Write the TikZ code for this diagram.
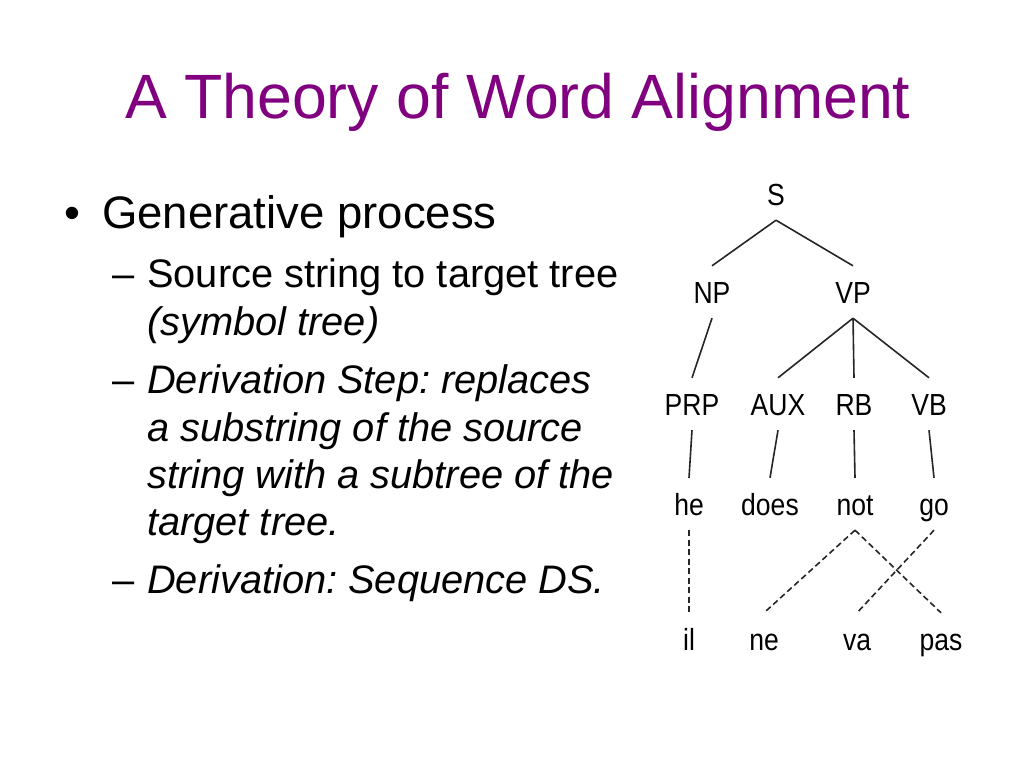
\documentclass[tikz,border=0pt]{standalone}
\usepackage{fontspec}
\setmainfont{Liberation Sans}
\newfontfamily\treefont[FakeStretch=0.87]{Liberation Sans}
\usepackage{xcolor}
\usepackage{tikz}
\frenchspacing
\definecolor{titlepurple}{RGB}{128,0,128}
\tikzset{
  ttl/.style={anchor=base west, inner sep=0pt, text=titlepurple, font=\fontsize{62.6}{75}\selectfont},
  txt/.style={anchor=base west, inner sep=0pt, font=\fontsize{#1}{48}\selectfont},
  txt/.default=39.8,
  tnode/.style={anchor=base, inner xsep=2pt, inner ysep=15pt, text height=22pt, text depth=0pt,
                font=\treefont\fontsize{30.5}{36}\selectfont},
  tlink/.style={line width=1.6pt, black!85},
  alink/.style={tlink, dash pattern=on 6pt off 3.5pt},
}

\begin{document}
\begin{tikzpicture}[x=1pt, y=-1pt]

\fill[white] (0,0) rectangle (1024,768);
\useasboundingbox (0,0) rectangle (1024,768);

% Title
\node[ttl] (title) at (125,118) {A Theory of Word Alignment};

% Bullets
\node[txt=45.5, anchor=base] (dot) at (72,228) {\textbullet};
\node[txt=45.5] (gen) at (102,228) {Generative process};
\node[txt] (dash1) at (112,287) {--};
\node[txt] (src) at (147,287) {Source string to target tree};
\node[txt] (sym) at (147,335) {\itshape (symbol tree)};
\node[txt] (dash2) at (112,393) {--};
\node[txt] (ds1) at (147,393) {\itshape Derivation Step: replaces};
\node[txt] (ds2) at (147,441) {\itshape a substring of the source};
\node[txt] (ds3) at (147,488) {\itshape string with a subtree of the};
\node[txt] (ds4) at (147,535) {\itshape target tree.};
\node[txt] (dash3) at (112,593) {--};
\node[txt] (der) at (147,593) {\itshape Derivation: Sequence DS.};

% Tree
\node[tnode] (s) at (776,205) {S};
\node[tnode] (np) at (712,303) {NP};
\node[tnode] (vp) at (853,303) {VP};
\node[tnode] (prp) at (692,415) {PRP};
\node[tnode] (aux) at (778,415) {AUX};
\node[tnode] (rb) at (854,415) {RB};
\node[tnode] (vb) at (929,415) {VB};

% English words
\node[tnode] (he) at (689,515) {he};
\node[tnode] (does) at (770,515) {does};
\node[tnode] (not) at (855,515) {not};
\node[tnode] (go) at (934,515) {go};

% French words
\node[tnode] (il) at (689,650) {il};
\node[tnode] (ne) at (764,650) {ne};
\node[tnode] (va) at (857,650) {va};
\node[tnode] (pas) at (941,650) {pas};

% Tree edges
\draw[tlink] (s.south) -- (np.north);
\draw[tlink] (s.south) -- (vp.north);
\draw[tlink] (np.south) -- (prp.north);
\foreach \c in {aux,rb,vb}
  \draw[tlink] (vp.south) -- (\c.north);
\draw[tlink] (prp.south) -- (he.north);
\draw[tlink] (aux.south) -- (does.north);
\draw[tlink] (rb.south) -- (not.north);
\draw[tlink] (vb.south) -- (go.north);

% Alignment links
\draw[alink] (he.south) -- (il.north);
\draw[alink] (not.south) -- (ne.north);
\draw[alink] (not.south) -- (pas.north);
\draw[alink] (go.south) -- (va.north);

\end{tikzpicture}
\end{document}
